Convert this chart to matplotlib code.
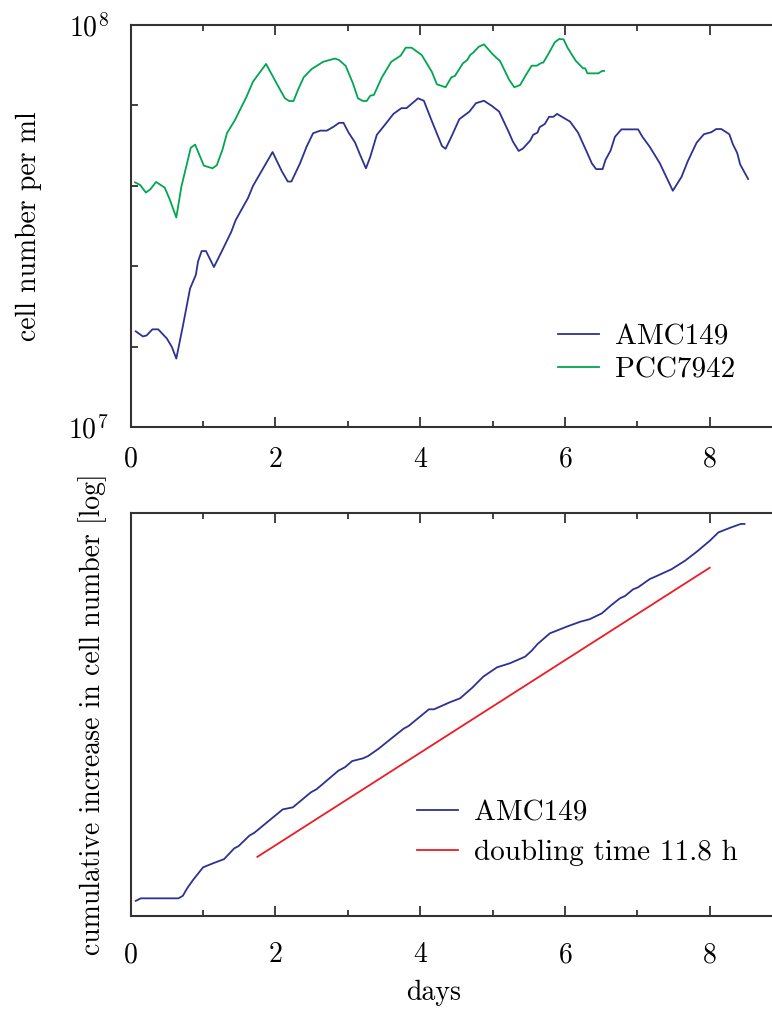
import numpy as np
import matplotlib
matplotlib.use("Agg")
import matplotlib.pyplot as plt

plt.rcParams['font.family'] = 'cmr10'
plt.rcParams['mathtext.fontset'] = 'cm'
plt.rcParams['axes.formatter.use_mathtext'] = True
plt.rcParams['font.size'] = 20

# top panel: cell counts (units of 1e7 cells per ml)
amc_days = [0.07, 0.17, 0.22, 0.30, 0.38, 0.50, 0.57, 0.63, 0.72, 0.82, 0.90, 0.93, 0.98, 1.04,
            1.15, 1.22, 1.29, 1.39, 1.45, 1.62, 1.69, 1.83, 1.96, 2.09, 2.17, 2.22, 2.34, 2.43,
            2.52, 2.62, 2.71, 2.80, 2.88, 2.94, 3.01, 3.10, 3.17, 3.25, 3.31, 3.40, 3.51, 3.63,
            3.74, 3.81, 3.97, 4.05, 4.16, 4.30, 4.35, 4.43, 4.54, 4.68, 4.77, 4.88, 4.99, 5.09,
            5.22, 5.28, 5.36, 5.42, 5.52, 5.56, 5.62, 5.65, 5.72, 5.78, 5.84, 5.89, 6.07, 6.18,
            6.30, 6.37, 6.43, 6.52, 6.56, 6.63, 6.69, 6.78, 7.01, 7.07, 7.17, 7.31, 7.49, 7.61,
            7.70, 7.82, 7.92, 8.02, 8.09, 8.16, 8.27, 8.32, 8.38, 8.42, 8.53]
amc_cells = [1.73, 1.68, 1.69, 1.75, 1.75, 1.66, 1.58, 1.48, 1.78, 2.21, 2.39, 2.58, 2.74, 2.74,
             2.50, 2.65, 2.81, 3.06, 3.27, 3.71, 3.98, 4.40, 4.83, 4.32, 4.08, 4.08, 4.53, 4.98,
             5.38, 5.46, 5.46, 5.58, 5.71, 5.71, 5.40, 5.10, 4.75, 4.40, 4.70, 5.33, 5.64, 6.01,
             6.21, 6.21, 6.57, 6.48, 5.77, 5.00, 4.92, 5.27, 5.83, 6.09, 6.39, 6.48, 6.29, 6.09,
             5.43, 5.13, 4.86, 4.93, 5.16, 5.33, 5.40, 5.57, 5.67, 5.91, 5.91, 6.01, 5.75, 5.40,
             4.84, 4.53, 4.38, 4.38, 4.62, 4.87, 5.27, 5.50, 5.50, 5.27, 4.98, 4.53, 3.87, 4.19,
             4.60, 5.10, 5.35, 5.41, 5.51, 5.51, 5.35, 5.05, 4.80, 4.50, 4.14]

pcc_days = [0.06, 0.13, 0.21, 0.27, 0.35, 0.47, 0.54, 0.63, 0.70, 0.83, 0.89, 1.01, 1.13, 1.19,
            1.27, 1.33, 1.44, 1.60, 1.69, 1.87, 2.01, 2.13, 2.19, 2.25, 2.31, 2.39, 2.50, 2.66,
            2.82, 2.88, 2.97, 3.07, 3.14, 3.21, 3.26, 3.31, 3.36, 3.47, 3.60, 3.73, 3.80, 3.88,
            4.02, 4.16, 4.23, 4.35, 4.43, 4.48, 4.59, 4.65, 4.69, 4.73, 4.81, 4.88, 4.99, 5.06,
            5.10, 5.23, 5.30, 5.38, 5.46, 5.54, 5.61, 5.68, 5.70, 5.77, 5.86, 5.92, 5.98, 6.04,
            6.15, 6.25, 6.28, 6.31, 6.46, 6.51, 6.54]
pcc_cells = [4.06, 4.00, 3.83, 3.90, 4.07, 3.94, 3.68, 3.32, 3.96, 4.95, 5.04, 4.47, 4.40, 4.48,
             4.91, 5.38, 5.80, 6.63, 7.23, 8.00, 7.19, 6.57, 6.47, 6.47, 6.89, 7.41, 7.77, 8.10,
             8.25, 8.18, 7.91, 7.16, 6.57, 6.47, 6.47, 6.67, 6.70, 7.41, 8.10, 8.39, 8.78, 8.78,
             8.42, 7.65, 7.12, 7.00, 7.41, 7.47, 8.03, 8.18, 8.42, 8.53, 8.83, 8.95, 8.50, 8.26,
             8.15, 7.30, 7.00, 7.09, 7.51, 7.92, 7.92, 8.06, 8.06, 8.47, 9.06, 9.23, 9.21, 8.75,
             8.14, 7.80, 7.80, 7.58, 7.58, 7.68, 7.69]

# bottom panel: cumulative increase, in doublings (log2)
cum_days = [0.07, 0.14, 0.66, 0.72, 0.78, 0.86, 1.00, 1.14, 1.29, 1.43, 1.49, 1.64, 1.71, 2.10,
            2.24, 2.49, 2.57, 2.87, 2.96, 3.06, 3.21, 3.28, 3.42, 3.77, 3.84, 4.12, 4.19, 4.41,
            4.55, 4.72, 4.87, 5.06, 5.24, 5.45, 5.54, 5.62, 5.79, 6.02, 6.21, 6.34, 6.51, 6.64,
            6.76, 6.83, 6.94, 7.01, 7.17, 7.27, 7.47, 7.66, 7.82, 8.00, 8.12, 8.28, 8.43, 8.48]
cum_doublings = [-0.11, 0.0, 0.0, 0.11, 0.44, 0.80, 1.36, 1.54, 1.72, 2.19, 2.29, 2.75, 2.88, 3.90,
                 3.99, 4.65, 4.79, 5.60, 5.75, 6.02, 6.14, 6.24, 6.55, 7.44, 7.56, 8.29, 8.29, 8.60,
                 8.77, 9.24, 9.72, 10.13, 10.31, 10.60, 10.86, 11.15, 11.62, 11.91, 12.13, 12.24, 12.50, 12.86,
                 13.16, 13.26, 13.55, 13.64, 14.00, 14.14, 14.43, 14.81, 15.20, 15.68, 16.05, 16.25, 16.42, 16.42]

fit_days = [1.75, 8.0]
fit_doublings = [1.82, 14.5]

blue = '#2e3192'
green = '#00a651'
red = '#ed1c24'
spine_col = '#333333'

fig = plt.figure(figsize=(7.72, 10.11), dpi=100)
ax1 = fig.add_axes([0.1693, 0.5776, 0.8307, 0.3977])
ax2 = fig.add_axes([0.1693, 0.0943, 0.8307, 0.3983])


def style(ax, pad):
    for s in ['left', 'top', 'bottom']:
        ax.spines[s].set_color(spine_col)
        ax.spines[s].set_linewidth(1.5)
    ax.spines['right'].set_visible(False)
    ax.set_xlim(0, 8.86)
    ax.set_xticks([0, 2, 4, 6, 8])
    ax.set_xticks([1, 3, 5, 7], minor=True)
    ax.tick_params(axis='x', which='both', direction='in', top=True, bottom=True,
                   color=spine_col, width=1.3, pad=pad)
    ax.tick_params(axis='x', which='major', length=7)
    ax.tick_params(axis='x', which='minor', length=4.5)


# top panel
ax1.plot(amc_days, np.array(amc_cells) * 1e7, color=blue, lw=1.3, label='AMC149')
ax1.plot(pcc_days, np.array(pcc_cells) * 1e7, color=green, lw=1.3, label='PCC7942')
ax1.set_yscale('log')
ax1.set_ylim(1e7, 1e8)
style(ax1, 14)
yt = 10 ** np.arange(7, 8.01, 0.2)
ax1.set_yticks(yt)
ax1.set_yticks([], minor=True)
ax1.set_yticklabels(['$10^7$', '', '', '', '', '$10^8$'])
ax1.tick_params(axis='y', which='both', direction='in', left=True, right=False,
                color=spine_col, width=1.3, length=5, pad=16)
ax1.set_ylabel('cell number per ml')
ax1.yaxis.set_label_coords(-0.138, 0.5)
ax1.legend(loc='center left', bbox_to_anchor=(0.666, 0.182), frameon=False, fontsize=21,
           handlelength=1.4, handletextpad=0.55, labelspacing=0.22,
           borderpad=0, borderaxespad=0)

# bottom panel
ax2.plot(cum_days, cum_doublings, color=blue, lw=1.3, label='AMC149')
ax2.plot(fit_days, fit_doublings, color=red, lw=1.3, label='doubling time 11.8 h')
ax2.set_ylim(-0.76, 16.9)
style(ax2, 19)
ax2.set_yticks([])
ax2.set_ylabel('cumulative increase in cell number [log]')
ax2.yaxis.set_label_coords(-0.037, 0.5)
ax2.set_xlabel('days')
ax2.xaxis.set_label_coords(0.473, -0.16)
ax2.legend(loc='center left', bbox_to_anchor=(0.446, 0.205), frameon=False, fontsize=21,
           handlelength=1.4, handletextpad=0.55, labelspacing=0.45,
           borderpad=0, borderaxespad=0)

fig.savefig('out.png', dpi=100)
